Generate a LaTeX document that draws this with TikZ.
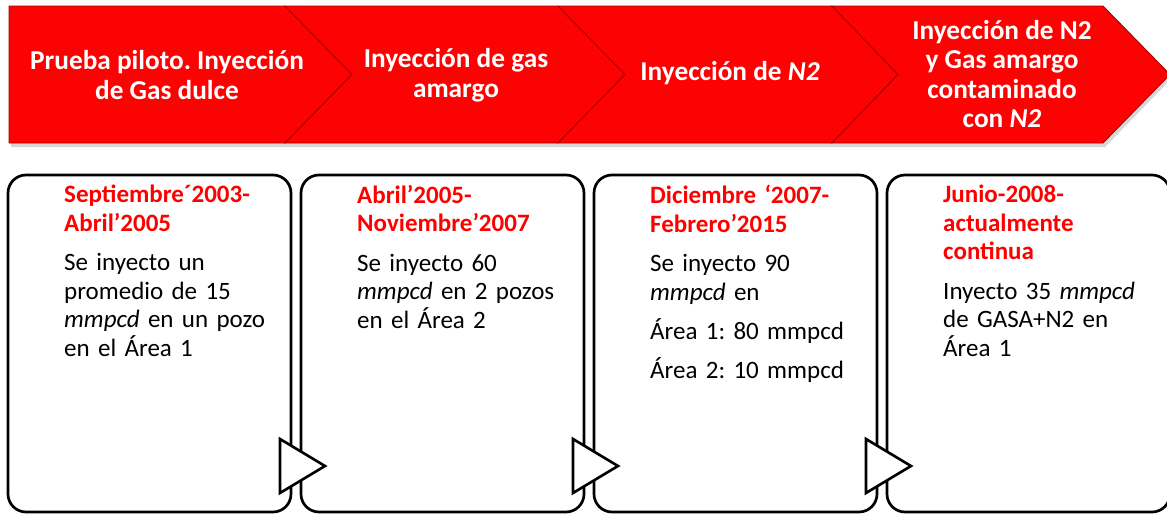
\documentclass[tikz,border=0pt]{standalone}
\usepackage{fontspec}
\setmainfont{Carlito}
\frenchspacing
\definecolor{chevred}{RGB}{252,2,2}
\definecolor{chevedge}{RGB}{170,0,0}
\definecolor{titred}{RGB}{255,0,0}
\begin{document}
\begin{tikzpicture}[x=1pt,y=-1pt,
  chev/.style={fill=chevred, draw=chevedge, line width=0.9pt, line join=miter},
  chevshadow/.style={fill=black, opacity=0.16},
  chevtext/.style={text=white, font=\fontsize{27.3}{29.6}\selectfont\bfseries, align=center, inner sep=0pt},
  card/.style={draw=black, line width=2.7pt, rounded corners=18pt, fill=white, outer sep=0pt,
    minimum width=283pt, minimum height=337pt, anchor=north west, inner sep=0pt},
  tri/.style={draw=black, line width=2.6pt, fill=white, line join=miter},
  cardtext/.style={anchor=north west, inner sep=0pt, text width=240pt, align=left,
    font=\fontsize{25}{28.5}\selectfont}]
\clip (0,0) rectangle (1167,514);
\fill[white] (0,0) rectangle (1167,514);

% shadow of the band
\fill[chevshadow] (11,10) -- (1105,10) -- (1172,78) -- (1105,147) -- (11,147) -- cycle;

% chevrons
\draw[chev] (9,6) -- (285,6) -- (352,74.5) -- (285,143) -- (9,143) -- cycle;
\draw[chev] (285,6) -- (558,6) -- (625,74.5) -- (558,143) -- (285,143) -- (352,74.5) -- cycle;
\draw[chev] (558,6) -- (832,6) -- (898,74.5) -- (832,143) -- (558,143) -- (625,74.5) -- cycle;
\draw[chev] (832,6) -- (1103,6) -- (1170,74.5) -- (1103,143) -- (832,143) -- (898,74.5) -- cycle;

\node[chevtext] (c1) at (167,75) {Prueba piloto. Inyección\\de Gas dulce};
\node[chevtext] (c2) at (456,75) {Inyección de gas\\amargo};
\node[chevtext] (c3) at (730,73) {Inyección de \textit{N2}};
\node[chevtext] (c4) at (1002,74) {Inyección de N2\\y Gas amargo\\contaminado\\con \textit{N2}};

% cards
\node[card] (b1) at (8,175) {};
\node[card] (b2) at (301,175) {};
\node[card] (b3) at (594,175) {};
\node[card] (b4) at (887,175) {};

\node[cardtext] (t1) at (64,185) {{\color{titred}\bfseries Septiembre´2003-\\Abril’2005}\par\vspace{11pt}
  Se inyecto un\\promedio de 15\\\textit{mmpcd} en un pozo\\en el Área 1};
\node[cardtext] (t2) at (357,185) {{\color{titred}\bfseries Abril’2005-\\Noviembre’2007}\par\vspace{11pt}
  Se inyecto 60\\\textit{mmpcd} en 2 pozos\\en el Área 2};
\node[cardtext] (t3) at (650,185) {{\color{titred}\bfseries Diciembre ‘2007-\\Febrero’2015}\par\vspace{11pt}
  Se inyecto 90\\\textit{mmpcd} en\par\vspace{11pt}Área 1: 80 mmpcd\par\vspace{10pt}Área 2: 10 mmpcd};
\node[cardtext] (t4) at (943,185) {{\color{titred}\bfseries Junio-2008-\\actualmente\\continua}\par\vspace{11pt}
  Inyecto 35 \textit{mmpcd}\\de GASA+N2 en\\Área 1};

% triangles between cards
\draw[tri] ([shift={(-11,-73)}]b1.south east) -- ([shift={(34,-46)}]b1.south east) -- ([shift={(-11,-19)}]b1.south east) -- cycle;
\draw[tri] ([shift={(-11,-73)}]b2.south east) -- ([shift={(34,-46)}]b2.south east) -- ([shift={(-11,-19)}]b2.south east) -- cycle;
\draw[tri] ([shift={(-11,-73)}]b3.south east) -- ([shift={(34,-46)}]b3.south east) -- ([shift={(-11,-19)}]b3.south east) -- cycle;
\end{tikzpicture}
\end{document}
